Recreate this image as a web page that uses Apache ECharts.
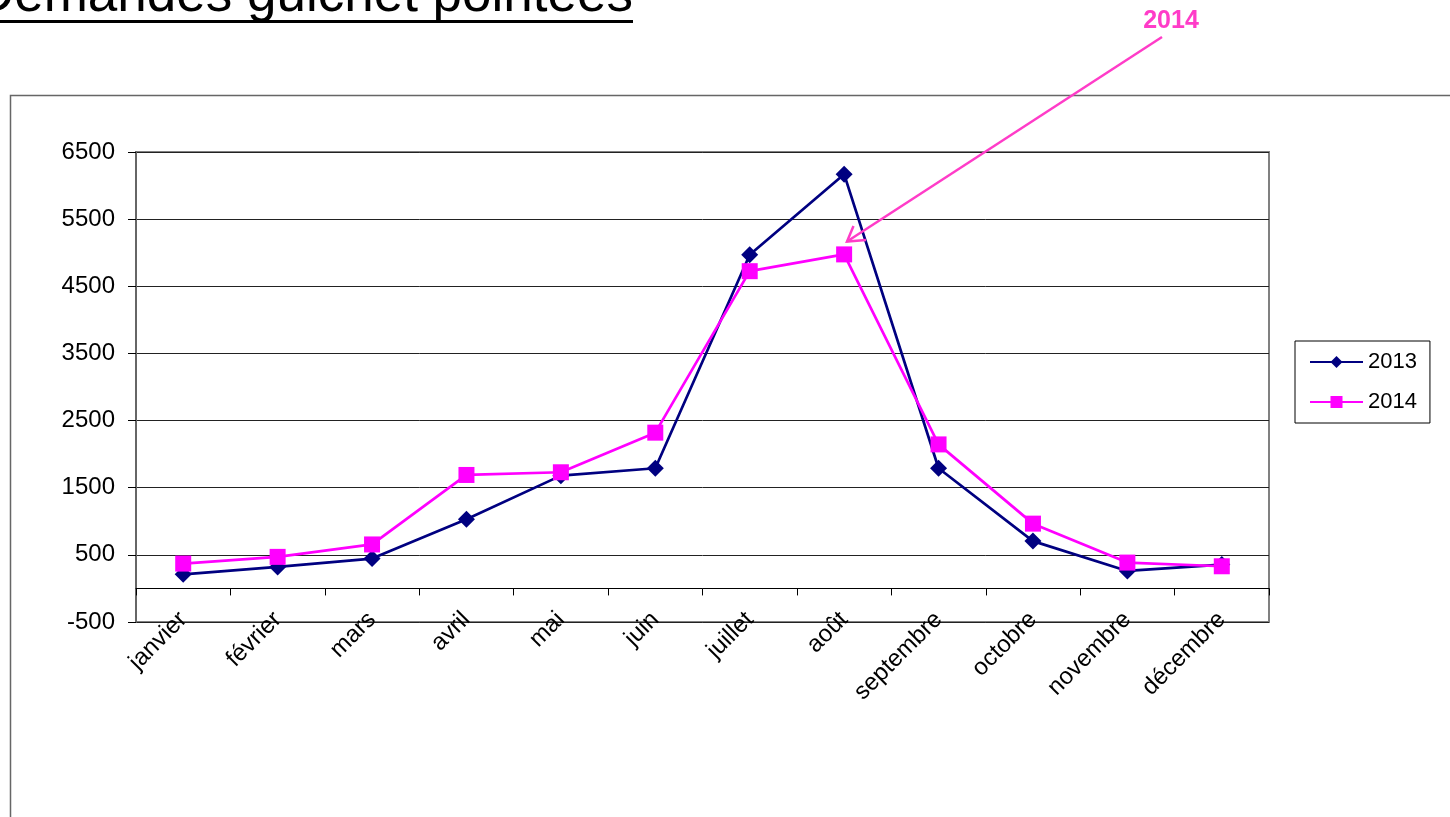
<!DOCTYPE html>
<html><head><meta charset="utf-8">
<script src="https://cdn.jsdelivr.net/npm/echarts@6/dist/echarts.min.js"></script>
<style>html,body{margin:0;padding:0;background:#fff;overflow:hidden}#c{width:1450px;height:817px}</style>
</head><body><div id="c"></div>
<script>
const months = ['janvier','février','mars','avril','mai','juin','juillet','août','septembre','octobre','novembre','décembre'];
const s2013 = [210, 320, 445, 1030, 1680, 1790, 4970, 6170, 1790, 705, 260, 355];
const s2014 = [370, 470, 655, 1690, 1730, 2320, 4725, 4975, 2145, 965, 385, 330];
const yTickLabels = ['-500','500','1500','2500','3500','4500','5500','6500'];
const seriesNames = ['2013', '2014'];
const titleText = 'Demandes guichet pointées';
const annotationText = '2014';

const FF = '"Liberation Sans", Arial, sans-serif';
const chart = echarts.init(document.getElementById('c'), null, {renderer: 'canvas'});
chart.setOption({
  animation: false,
  backgroundColor: '#fff',
  grid: {left: 136, top: 152, width: 1133, height: 470, show: true, borderColor: '#808080', borderWidth: 2, backgroundColor: 'transparent', containLabel: false, outerBoundsMode: 'none'},
  legend: {
    orient: 'vertical', left: 1295, top: 341,
    padding: [10, 13, 10, 14], itemGap: 18, itemWidth: 53, itemHeight: 15,
    borderColor: '#000', borderWidth: 1, backgroundColor: '#fff',
    textStyle: {fontSize: 22, fontFamily: FF, color: '#000'},
    data: seriesNames, selectedMode: false
  },
  xAxis: [
    {type: 'category', data: months, position: 'bottom', boundaryGap: true,
     axisLine: {show: true, onZero: true, onZeroAxisIndex: 0, lineStyle: {color: '#000', width: 1}},
     axisTick: {show: true, length: 7, inside: false, lineStyle: {color: '#000', width: 1}},
     axisLabel: {show: false}, splitLine: {show: false}},
    {type: 'category', data: months, position: 'bottom', boundaryGap: true,
     axisLine: {show: false, onZero: false}, axisTick: {show: false},
     axisLabel: {show: true, rotate: 45, margin: -6, fontSize: 24, fontFamily: FF, color: '#000', interval: 0},
     splitLine: {show: false}}
  ],
  yAxis: [
    {type: 'value', min: -500, max: 6500, show: false, splitLine: {show: false}},
    {type: 'value', min: 0, max: 7000, interval: 1000, position: 'left',
     axisLine: {show: true, lineStyle: {color: '#666', width: 2}},
     axisTick: {show: true, length: 8, inside: false, lineStyle: {color: '#000', width: 1}},
     axisLabel: {show: true, margin: 21, fontSize: 24, fontFamily: FF, color: '#000',
       formatter: (v, i) => yTickLabels[i] !== undefined ? yTickLabels[i] : ''},
     splitLine: {show: true, lineStyle: {color: '#222', width: 1}}}
  ],
  series: [
    {name: seriesNames[0], type: 'line', data: s2013, xAxisIndex: 0, yAxisIndex: 0,
     symbol: 'diamond', symbolSize: 17, showAllSymbol: true,
     itemStyle: {color: '#000080'}, lineStyle: {color: '#000080', width: 2.7},
     emphasis: {disabled: true}, z: 3},
    {name: seriesNames[1], type: 'line', data: s2014, xAxisIndex: 0, yAxisIndex: 0,
     symbol: 'rect', symbolSize: 16, showAllSymbol: true,
     itemStyle: {color: '#ff00ff'}, lineStyle: {color: '#ff00ff', width: 2.7},
     emphasis: {disabled: true}, z: 4}
  ],
  graphic: [
    {type: 'rect', silent: true, z: -10, shape: {x: 10.5, y: 95.5, width: 1500, height: 800},
     style: {fill: 'none', stroke: '#666', lineWidth: 1.5}},
    {type: 'text', silent: true, x: 633, y: -4,
     style: {text: titleText, font: '53px ' + FF, fill: '#000', align: 'right', verticalAlign: 'middle'}},
    {type: 'line', silent: true, shape: {x1: -40, y1: 21.5, x2: 633, y2: 21.5},
     style: {stroke: '#000', lineWidth: 3}},
    {type: 'text', silent: true, x: 1171, y: 21,
     style: {text: annotationText, font: 'bold 25px ' + FF, fill: '#ff3cc8', align: 'center', verticalAlign: 'middle'}},
    {type: 'line', silent: true, z: 10, shape: {x1: 1162, y1: 37, x2: 847, y2: 241.5},
     style: {stroke: '#ff3cc8', lineWidth: 2.5}},
    {type: 'polyline', silent: true, z: 10, shape: {points: [[853.5, 226], [847, 241.5], [866, 240]]},
     style: {stroke: '#ff3cc8', lineWidth: 2.5, fill: 'none'}}
  ]
});
</script></body></html>
